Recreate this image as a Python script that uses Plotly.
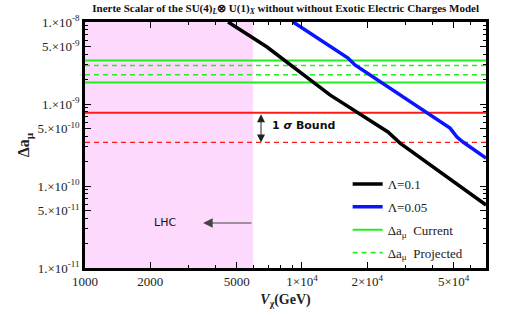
import math
import plotly.graph_objects as go

# ---- data ----
lam01_x = [4565, 6900, 13450, 24900, 28300, 70500]
lam01_y = [1.0e-8, 4.95e-9, 1.29e-9, 4.56e-10, 3.34e-10, 5.86e-11]
lam005_x = [9100, 16300, 17540, 37700, 48100, 51800, 55200, 70500]
lam005_y = [1.0e-8, 3.64e-9, 2.99e-9, 7.76e-10, 5.09e-10, 3.96e-10, 3.44e-10, 2.19e-10]
current_bounds = [3.39e-9, 1.83e-9]
projected_bounds = [2.95e-9, 2.27e-9]
sigma_current = 7.8e-10
sigma_projected = 3.4e-10
lhc_limit = 5940
x_range = [1000, 70500]
y_range = [1e-11, 1e-8]

x_tickvals = [1000, 2000, 5000, 10000, 20000, 50000]
x_ticktext = ["1000", "2000", "5000", "1×10<sup>4</sup>", "2×10<sup>4</sup>", "5×10<sup>4</sup>"]
y_tickvals = [1e-11, 5e-11, 1e-10, 5e-10, 1e-9, 5e-9, 1e-8]
y_ticktext = ["1.×10<sup>-11</sup>", "5.×10<sup>-11</sup>", "1.×10<sup>-10</sup>", "5.×10<sup>-10</sup>",
              "1.×10<sup>-9</sup>", "5.×10<sup>-9</sup>", "1.×10<sup>-8</sup>"]
x_minor = [3000, 4000, 6000, 7000, 8000, 9000, 30000, 40000, 60000, 70000]
y_minor = [m * 10.0 ** e for e in (-11, -10, -9) for m in (2, 3, 4, 6, 7, 8, 9)]

serif = "Liberation Serif"
green = "#22EE22"
red = "#FF1A1A"
L = math.log10

fig = go.Figure()

# LHC excluded region
fig.add_shape(type="rect", x0=x_range[0], x1=lhc_limit, y0=y_range[0], y1=y_range[1],
              xref="x", yref="y", fillcolor="#FDD9FD", line_width=0, layer="below")

xr = [x_range[0], x_range[1]]
for i, v in enumerate(current_bounds):
    fig.add_trace(go.Scatter(x=xr, y=[v, v], mode="lines", line=dict(color=green, width=2),
                             name="Δa<sub>μ</sub>  Current", showlegend=(i == 0), legendrank=3,
                             legendgroup="cur"))
for i, v in enumerate(projected_bounds):
    fig.add_trace(go.Scatter(x=xr, y=[v, v], mode="lines", line=dict(color=green, width=1.6, dash="5px,4px"),
                             name="Δa<sub>μ</sub>  Projected", showlegend=(i == 0), legendrank=4,
                             legendgroup="proj"))
fig.add_trace(go.Scatter(x=xr, y=[sigma_current] * 2, mode="lines", line=dict(color=red, width=2),
                         showlegend=False))
fig.add_trace(go.Scatter(x=xr, y=[sigma_projected] * 2, mode="lines",
                         line=dict(color=red, width=1.3, dash="5px,4px"), showlegend=False))

fig.add_trace(go.Scatter(x=lam01_x, y=lam01_y, mode="lines", line=dict(color="black", width=3.5),
                         name="Λ=0.1", legendrank=1, legendgroup="l1"))
fig.add_trace(go.Scatter(x=lam005_x, y=lam005_y, mode="lines", line=dict(color="#0A14FF", width=3.5),
                         name="Λ=0.05", legendrank=2, legendgroup="l2"))

# 1 sigma double arrow (annotation coords on log axes are log10 values)
fig.add_annotation(x=L(6475), y=L(sigma_projected), ax=L(6475), ay=L(sigma_current), xref="x", yref="y",
                   axref="x", ayref="y", showarrow=True, arrowhead=2, startarrowhead=2,
                   arrowside="end+start", arrowsize=1.6, startarrowsize=1.6, arrowwidth=1,
                   arrowcolor="#222222", text="")
fig.add_annotation(x=L(10200), y=L(5.4e-10), xref="x", yref="y", showarrow=False,
                   text="<b>1 <i>σ</i> Bound</b>", font=dict(family="DejaVu Sans", size=11, color="#111"))
# LHC arrow
fig.add_annotation(x=L(3500), y=L(3.54e-11), ax=L(lhc_limit), ay=L(3.54e-11), xref="x", yref="y",
                   axref="x", ayref="y", showarrow=True, arrowhead=2, arrowsize=1.6, arrowwidth=1.2,
                   arrowcolor="#444444", text="")
fig.add_annotation(x=L(2340), y=L(3.54e-11), xref="x", yref="y", showarrow=False,
                   text="LHC", font=dict(family="DejaVu Sans", size=11, color="#111"))

axis_common = dict(type="log", showgrid=False, zeroline=False, showline=True, linewidth=2.5,
                   linecolor="black", mirror="allticks", ticks="inside", ticklen=6, tickwidth=1,
                   tickcolor="black", tickfont=dict(family=serif, size=13, color="#222"),
                   automargin=False)
fig.update_xaxes(range=[3, 4.848], tickmode="array", tickvals=x_tickvals, ticktext=x_ticktext,
                 minor=dict(tickmode="array", tickvals=x_minor, ticks="inside", ticklen=3,
                            tickcolor="black"),
                 title=dict(text="<b><i>V</i><sub>χ</sub>(GeV)</b>", font=dict(family=serif, size=14,
                                                                            color="#222"), standoff=6),
                 **axis_common)
fig.update_yaxes(range=[-11, -8], tickmode="array", tickvals=y_tickvals, ticktext=y_ticktext,
                 minor=dict(tickmode="array", tickvals=y_minor, ticks="inside", ticklen=3,
                            tickcolor="black"),
                 title=dict(text="<b>Δa<sub>μ</sub></b>", font=dict(family=serif, size=16, color="#222"),
                            standoff=4),
                 **axis_common)

fig.update_layout(
    width=527, height=316,
    margin=dict(l=85, r=41, t=22, b=48),
    paper_bgcolor="white", plot_bgcolor="white",
    title=dict(text="<b>Inerte Scalar of the SU(4)<sub><i>L</i></sub>⊗ U(1)<sub><i>X</i></sub> without without Exotic Electric Charges Model</b>",
               font=dict(family=serif, size=11, color="#111"), x=0.542, xanchor="center",
               y=0.975, yanchor="middle"),
    legend=dict(x=0.655, y=0.0, xanchor="left", yanchor="bottom", bgcolor="rgba(0,0,0,0)",
                font=dict(family=serif, size=13, color="#222"), tracegroupgap=3),
    showlegend=True,
)

fig.write_html("out.html", config={"displayModeBar": False},
               post_script="document.body.style.margin='0';document.body.style.overflow='hidden';")
